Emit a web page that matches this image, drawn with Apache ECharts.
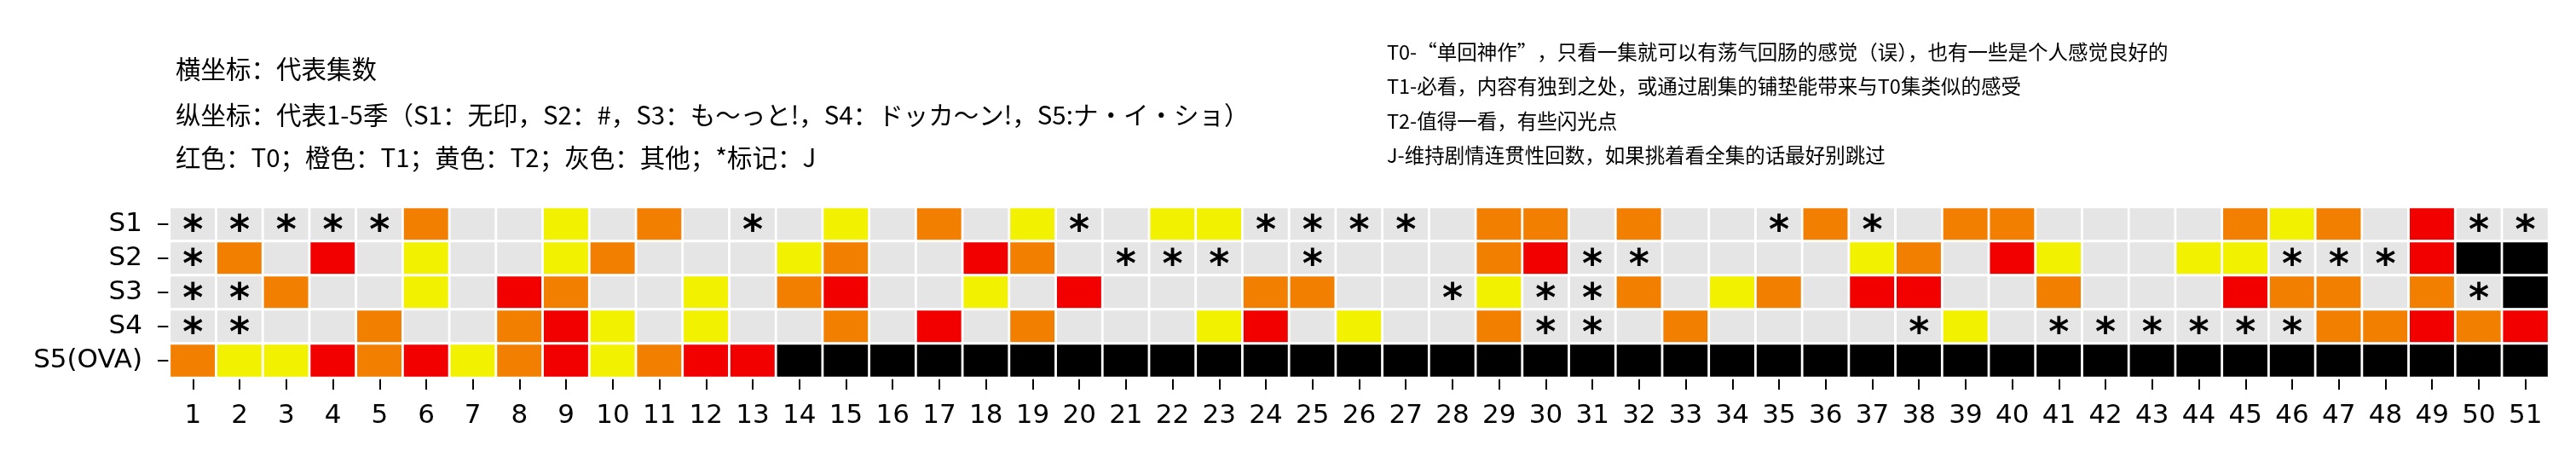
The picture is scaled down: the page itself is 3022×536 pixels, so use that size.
<!DOCTYPE html>
<html>
<head>
<meta charset="utf-8">
<script src="https://cdn.jsdelivr.net/npm/echarts@6/dist/echarts.min.js"></script>
<style>
html,body{margin:0;padding:0;background:#fff;}
#chart{width:3022px;height:536px;}
</style>
</head>
<body>
<div id="chart"></div>
<script>
// ---- data ----
const episodes = ['1','2','3','4','5','6','7','8','9','10','11','12','13','14','15','16','17','18','19','20','21','22','23','24','25','26','27','28','29','30','31','32','33','34','35','36','37','38','39','40','41','42','43','44','45','46','47','48','49','50','51'];
const seasons = ['S1','S2','S3','S4','S5(OVA)'];
// R = T0, O = T1, Y = T2, G = other, J = other marked *, K = no episode
const s1 = ['J','J','J','J','J','O','G','G','Y','G','O','G','J', 'G','Y','G','O','G','Y','J','G','Y','Y','J','J','J','J', 'G','O','O','G','O','G','G','J','O','J','G','O','O', 'G','G','G','G','O','Y','O','G','R','J','J'];
const s2 = ['J','O','G','R','G','Y','G','G','Y','O','G','G','G', 'Y','O','G','G','R','O','G','J','J','J','G','J','G','G', 'G','O','R','J','J','G','G','G','G','Y','O','G','R', 'Y','G','G','Y','Y','J','J','J','R','K','K'];
const s3 = ['J','J','O','G','G','Y','G','R','O','G','G','Y','G', 'O','R','G','G','Y','G','R','G','G','G','O','O','G','G', 'J','Y','J','J','O','G','Y','O','G','R','R','G','G', 'O','G','G','G','R','O','O','G','O','J','K'];
const s4 = ['J','J','G','G','O','G','G','O','R','Y','G','Y','G', 'G','O','G','R','G','O','G','G','G','Y','R','G','Y','G', 'G','O','J','J','G','O','G','G','G','G','J','Y','G', 'J','J','J','J','J','J','O','O','R','O','R'];
const s5 = ['O','Y','Y','R','O','R','Y','O','R','Y','O','R','R', 'K','K','K','K','K','K','K','K','K','K','K','K','K','K', 'K','K','K','K','K','K','K','K','K','K','K','K','K', 'K','K','K','K','K','K','K','K','K','K','K'];
const codeOrder = ['R','O','Y','G','J','K'];
const leftNotes = ['横坐标：代表集数', '纵坐标：代表1-5季（S1：无印，S2：#，S3：も～っと!，S4：ドッカ～ン!，S5:ナ・イ・ショ）', '红色：T0；橙色：T1；黄色：T2；灰色：其他；*标记：J'];
const rightNotes = ['T0-“单回神作”，只看一集就可以有荡气回肠的感觉（误），也有一些是个人感觉良好的', 'T1-必看，内容有独到之处，或通过剧集的铺垫能带来与T0集类似的感受', 'T2-值得一看，有些闪光点', 'J-维持剧情连贯性回数，如果挑着看全集的话最好别跳过'];

// ---- styles ----
const palette = {R:'#f20000', O:'#f27f00', Y:'#f2f200', G:'#e5e5e5', J:'#e5e5e5', K:'#000000'};
const rows = [s1, s2, s3, s4, s5];
const heat = [];
rows.forEach((row, yi) => {
  row.forEach((code, xi) => {
    heat.push({
      value: [xi, yi, codeOrder.indexOf(code)],
      itemStyle: {color: palette[code]},
      label: {show: code === 'J'}
    });
  });
});

const chart = echarts.init(document.getElementById('chart'), null, {renderer: 'canvas'});
const axisFont = {fontFamily: 'DejaVu Sans', fontSize: 31, color: '#000'};
const gfx = [];
leftNotes.forEach((t, i) => {
  gfx.push({type: 'text', left: 206, top: [83, 137, 187][i] - 17, style: {text: t, font: '29.5px "Noto Sans CJK SC"', fill: '#000'}});
});
rightNotes.forEach((t, i) => {
  gfx.push({type: 'text', left: 1627, top: [62, 102, 143, 183][i] - 13, style: {text: t, font: '23.5px "Noto Sans CJK SC"', fill: '#000'}});
});

chart.setOption({
  animation: false,
  backgroundColor: '#fff',
  grid: {left: 199, right: 32, top: 243, bottom: 93, containLabel: false},
  xAxis: {
    type: 'category', data: episodes,
    axisLine: {show: false},
    axisTick: {show: true, alignWithLabel: true, interval: 0, length: 14, lineStyle: {color: '#000', width: 2}},
    axisLabel: Object.assign({margin: 29, interval: 0}, axisFont),
    splitLine: {show: false}, splitArea: {show: false}
  },
  yAxis: {
    type: 'category', data: seasons, inverse: true,
    axisLine: {show: false},
    axisTick: {show: true, alignWithLabel: true, interval: 0, length: 14, lineStyle: {color: '#000', width: 2}},
    axisLabel: Object.assign({margin: 32, interval: 0}, axisFont),
    splitLine: {show: false}, splitArea: {show: false}
  },
  series: [{
    type: 'heatmap',
    data: heat,
    itemStyle: {borderColor: '#fff', borderWidth: 2.8},
    label: {
      show: false,
      formatter: '*',
      fontFamily: 'DejaVu Sans', fontSize: 46, fontWeight: 'bold', color: '#000',
      offset: [0, 10]
    },
    emphasis: {disabled: true}
  }],
  graphic: gfx
});
</script>
</body>
</html>
